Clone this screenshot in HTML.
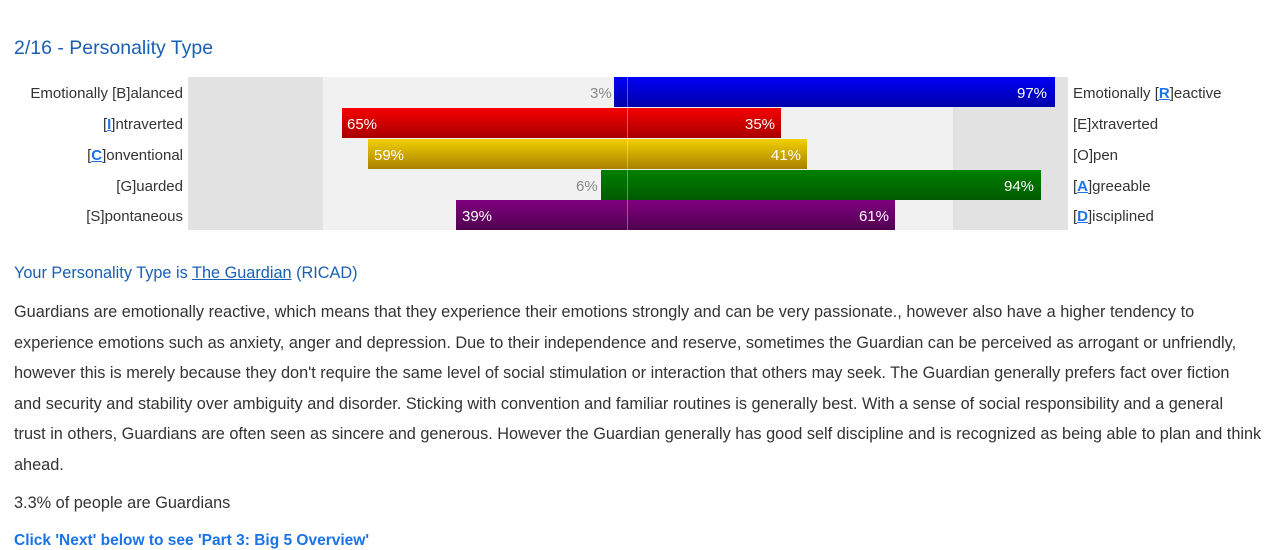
<!DOCTYPE html>
<html><head><meta charset="utf-8"><style>
body{margin:0;width:1280px;height:544px;overflow:hidden;background:#fff;font-family:"Liberation Sans",sans-serif;}
.a{position:absolute;white-space:nowrap}
.t{color:#1a5fb4}
.lbl{font-size:15px;color:#333}
.k{color:#1a73e8;font-weight:bold;text-decoration:underline}
.bar{position:absolute;height:30px;box-sizing:border-box}
.pct{position:absolute;font-size:15px;top:7px}
.body{font-size:16.3px;color:#333;line-height:30.6px}
</style></head><body>
<div class="a t" style="left:14px;top:37px;font-size:19.5px">2/16 - Personality Type</div>

<div style="position:absolute;left:188px;top:77px;width:880px;height:153px;background:#f1f1f1"></div>
<div style="position:absolute;left:188px;top:77px;width:135px;height:153px;background:#e2e2e2"></div>
<div style="position:absolute;left:953px;top:77px;width:115px;height:153px;background:#e2e2e2"></div>

<div class="bar" style="left:614px;top:77px;width:441px;background:linear-gradient(#0000f5,#0000a8)"></div>
<div class="bar" style="left:342px;top:108px;width:439px;background:linear-gradient(#f50000,#a80000)"></div>
<div class="bar" style="left:368px;top:139px;width:439px;background:linear-gradient(#f2d000,#a88000)"></div>
<div class="bar" style="left:601px;top:170px;width:440px;background:linear-gradient(#008000,#005a00)"></div>
<div class="bar" style="left:456px;top:200px;width:439px;background:linear-gradient(#800080,#500050)"></div>
<div style="position:absolute;left:627px;top:77px;width:1px;height:153px;background:rgba(255,255,255,0.35)"></div>

<div class="pct" style="left:590px;top:85px;color:#888">3%</div>
<div class="pct" style="left:1017px;top:85px;color:#fff">97%</div>
<div class="pct" style="left:347px;top:116px;color:#fff">65%</div>
<div class="pct" style="left:745px;top:116px;color:#fff">35%</div>
<div class="pct" style="left:374px;top:147px;color:#fff">59%</div>
<div class="pct" style="left:771px;top:147px;color:#fff">41%</div>
<div class="pct" style="left:576px;top:178px;color:#888">6%</div>
<div class="pct" style="left:1004px;top:178px;color:#fff">94%</div>
<div class="pct" style="left:462px;top:208px;color:#fff">39%</div>
<div class="pct" style="left:859px;top:208px;color:#fff">61%</div>

<div class="a lbl" style="right:1097px;top:85px">Emotionally [B]alanced</div>
<div class="a lbl" style="right:1097px;top:116px">[<span class="k">I</span>]ntraverted</div>
<div class="a lbl" style="right:1097px;top:147px">[<span class="k">C</span>]onventional</div>
<div class="a lbl" style="right:1097px;top:178px">[G]uarded</div>
<div class="a lbl" style="right:1097px;top:208px">[S]pontaneous</div>
<div class="a lbl" style="left:1073px;top:85px">Emotionally [<span class="k">R</span>]eactive</div>
<div class="a lbl" style="left:1073px;top:116px">[E]xtraverted</div>
<div class="a lbl" style="left:1073px;top:147px">[O]pen</div>
<div class="a lbl" style="left:1073px;top:178px">[<span class="k">A</span>]greeable</div>
<div class="a lbl" style="left:1073px;top:208px">[<span class="k">D</span>]isciplined</div>

<div class="a t" style="left:14px;top:264px;font-size:16.3px">Your Personality Type is <span style="text-decoration:underline">The Guardian</span> (RICAD)</div>
<div class="a body" style="left:14px;top:297px">Guardians are emotionally reactive, which means that they experience their emotions strongly and can be very passionate., however also have a higher tendency to<br>experience emotions such as anxiety, anger and depression. Due to their independence and reserve, sometimes the Guardian can be perceived as arrogant or unfriendly,<br>however this is merely because they don't require the same level of social stimulation or interaction that others may seek. The Guardian generally prefers fact over fiction<br>and security and stability over ambiguity and disorder. Sticking with convention and familiar routines is generally best. With a sense of social responsibility and a general<br>trust in others, Guardians are often seen as sincere and generous. However the Guardian generally has good self discipline and is recognized as being able to plan and think<br>ahead.</div>
<div class="a body" style="left:14px;top:488px">3.3% of people are Guardians</div>
<div class="a" style="left:14px;top:532px;font-size:15.5px;font-weight:bold;color:#1a73e8">Click 'Next' below to see 'Part 3: Big 5 Overview'</div>
</body></html>
